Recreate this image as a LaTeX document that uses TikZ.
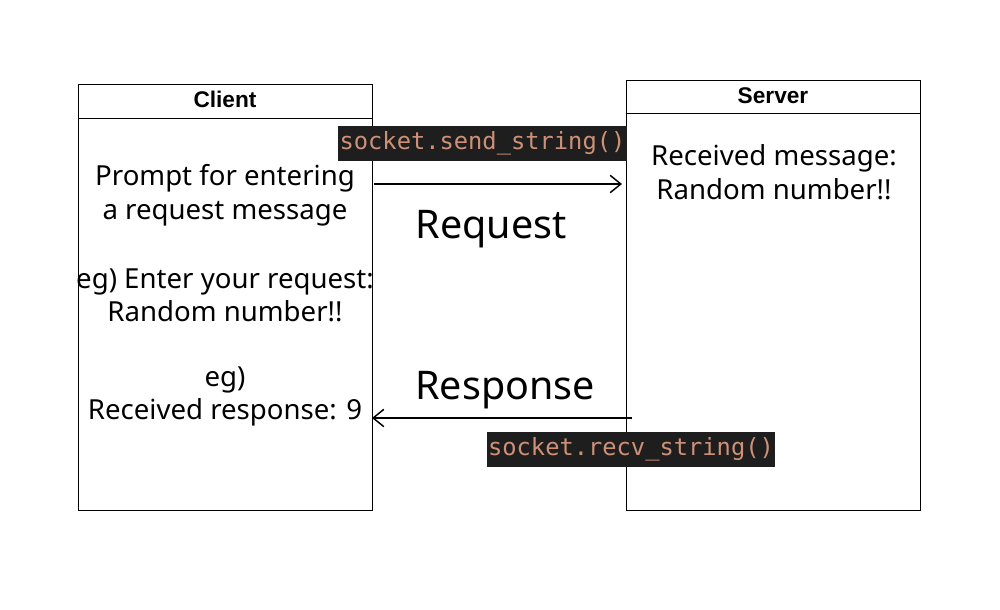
\documentclass[tikz,border=0pt]{standalone}
\usepackage{fontspec}
\setmainfont{Noto Sans}
\newfontfamily\headfont{Liberation Sans}
\newfontfamily\codefont{DejaVu Sans Mono}
\usetikzlibrary{arrows.meta}
\definecolor{codebg}{HTML}{1E1E1E}
\definecolor{codefg}{HTML}{CE9178}
\begin{document}
\begin{tikzpicture}[x=0.75pt,y=-0.75pt,
  box/.style={draw, line width=1.1pt, minimum width=294*0.75pt, inner sep=0pt, anchor=north west},
  head/.style={font=\headfont\bfseries\fontsize{17pt}{20pt}\selectfont},
  body/.style={align=center, font=\fontsize{20.7pt}{25.2pt}\selectfont, inner sep=0pt},
  big/.style={font=\fontsize{29.6pt}{34pt}\selectfont, inner sep=0pt},
  code/.style={fill=codebg, text=codefg, inner xsep=1pt, minimum height=35*0.75pt, font=\codefont\fontsize{17.8pt}{20pt}\selectfont},
  msg/.style={line width=1.1pt, -{Straight Barb[length=8pt,width=13pt,line width=1.1pt]}}]
\useasboundingbox (0,0) rectangle (1000,610);
\fill[white] (0,0) rectangle (1000,610);
% boxes
\node[box, minimum height=426*0.75pt] (client) at (78,84) {};
\node[box, minimum height=34*0.75pt] (clienthead) at (78,84) {};
\node[head] (clientlbl) at (225,99.5) {Client};
\node[box, minimum height=430*0.75pt] (server) at (626,80) {};
\node[box, minimum height=33*0.75pt] (serverhead) at (626,80) {};
\node[head] (serverlbl) at (773,95.5) {Server};
% client texts
\node[body] (c1) at (225,195.5) {Prompt for entering\\a request message};
\node[body] (c2) at (225,295.5) {eg) Enter your request:\\Random number!!};
\node[body] (c3) at (225,396.5) {eg)\\Received response: 9};
% server text
\node[body] (s1) at (774,172) {Received message:\\Random number!!};
% labels
\node[code] (send) at (482.5,143.5) {socket.send\_string()};
\node[code] (recv) at (631,449) {socket.recv\_string()};
\node[big] (req) at (491,229) {Request};
\node[big] (resp) at (505,390) {Response};
% arrows
\coordinate (a1) at (374,184);
\coordinate (a2) at (622,184);
\coordinate (b1) at (632,418);
\coordinate (b2) at (372,418);
\draw[msg] (a1) -- (a2);
\draw[msg] (b1) -- (b2);
\end{tikzpicture}
\end{document}
